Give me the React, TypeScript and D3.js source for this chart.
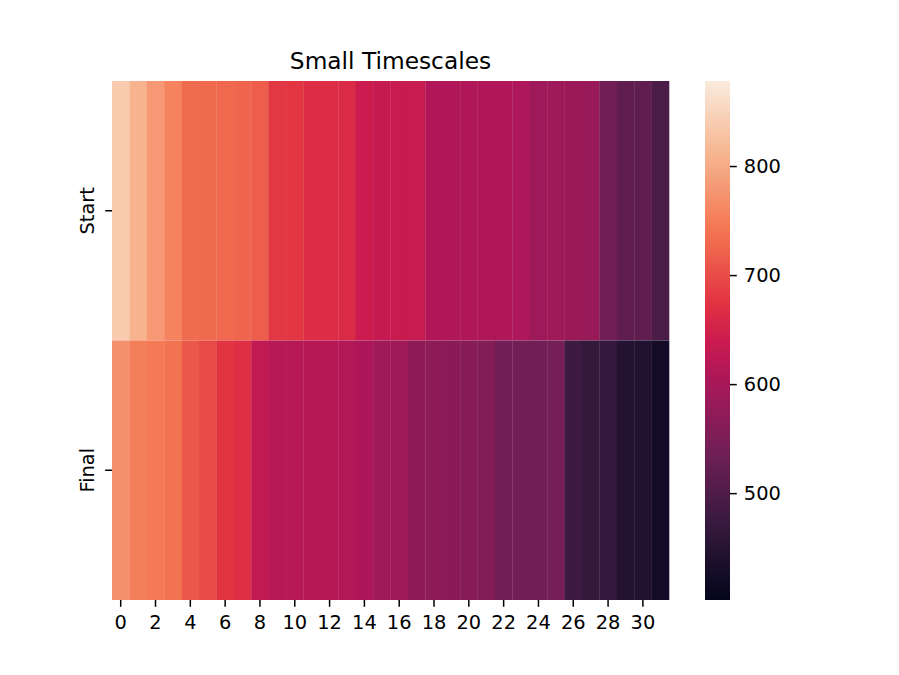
import * as d3 from 'd3';
import React, { useEffect, useRef } from 'react';

// columns 0..31, two rows
const columns: number[] = d3.range(32);
const rows: string[] = ['Start', 'Final'];

const startValues: number[] = [
  837, 809, 779, 756, 732, 730, 729, 725, 717, 679, 678, 666, 666, 661, 641, 633,
  637, 637, 610, 609, 609, 608, 608, 607, 589, 588, 587, 583, 541, 520, 519, 494,
];
const finalValues: number[] = [
  772, 752, 746, 739, 712, 697, 675, 670, 628, 617, 617, 616, 616, 612, 606, 592,
  591, 571, 570, 568, 565, 558, 541, 541, 540, 542, 478, 469, 468, 445, 443, 425,
];

const colorTicks: number[] = [500, 600, 700, 800];
const colorDomain: [number, number] = [402, 878];

// rocket-ish colour stops (position, colour)
const rocketPos: number[] = [0, 1 / 7, 2 / 7, 3 / 7, 0.5, 4 / 7, 5 / 7, 6 / 7, 1];
const rocketCol: string[] = [
  '#03051a', '#35193e', '#701f57', '#ad1759', '#cb1b4f', '#e13342', '#f37651', '#f6b48f', '#faebdd',
];

const font = 'DejaVu Sans, sans-serif';
const tickFont = 19.4;
const tickLen = 6.8;
const tickW = 1.5;

function drawChart(el: SVGSVGElement) {
  const width = 899;
  const height = 675;
  const left = 112, right = 669, top = 81, bottom = 600;

  const svg = d3.select(el);
  svg.selectAll('*').remove();
  svg.attr('width', width).attr('height', height).style('background', 'white');

  const rocket = d3.scaleLinear<string>()
    .domain(rocketPos)
    .range(rocketCol)
    .interpolate(d3.interpolateRgb);
  const norm = d3.scaleLinear().domain(colorDomain).range([0, 1]).clamp(true);
  const color = (v: number) => rocket(norm(v));

  const x = d3.scaleBand<number>().domain(columns).range([left, right]);
  const y = d3.scaleBand<string>().domain(rows).range([top, bottom]);

  const cells: { row: string; col: number; value: number }[] = [];
  columns.forEach((c, i) => {
    cells.push({ row: 'Start', col: c, value: startValues[i] });
    cells.push({ row: 'Final', col: c, value: finalValues[i] });
  });

  svg.append('g')
    .selectAll('rect')
    .data(cells)
    .join('rect')
    .attr('x', d => x(d.col)!)
    .attr('y', d => y(d.row)!)
    .attr('width', x.bandwidth() + 0.3)
    .attr('height', y.bandwidth())
    .attr('fill', d => color(d.value));

  // x axis
  const xAxis = d3.axisBottom(x)
    .tickValues(columns.filter(c => c % 2 === 0))
    .tickSize(tickLen)
    .tickPadding(8);
  const gx = svg.append('g')
    .attr('transform', `translate(0,${bottom})`)
    .call(xAxis);
  gx.select('.domain').remove();
  gx.selectAll('line').attr('stroke', '#000').attr('stroke-width', tickW);
  gx.selectAll('text').attr('font-family', font).attr('font-size', tickFont).attr('fill', '#000');

  // y axis
  const yAxis = d3.axisLeft(y).tickSize(tickLen).tickFormat(() => '');
  const gy = svg.append('g')
    .attr('transform', `translate(${left},0)`)
    .call(yAxis);
  gy.select('.domain').remove();
  gy.selectAll('line').attr('stroke', '#000').attr('stroke-width', tickW);

  svg.append('g')
    .selectAll('text')
    .data(rows)
    .join('text')
    .attr('transform', d => `translate(${left - 18},${y(d)! + y.bandwidth() / 2}) rotate(-90)`)
    .attr('text-anchor', 'middle')
    .attr('font-family', font)
    .attr('font-size', tickFont)
    .text(d => d);

  // title
  svg.append('text')
    .attr('x', (left + right) / 2)
    .attr('y', 69)
    .attr('text-anchor', 'middle')
    .attr('font-family', font)
    .attr('font-size', 23.3)
    .text('Small Timescales');

  // colorbar
  const cbLeft = 705, cbWidth = 25;
  const grad = svg.append('defs').append('linearGradient')
    .attr('id', 'cbar')
    .attr('x1', 0).attr('y1', 1).attr('x2', 0).attr('y2', 0);
  d3.range(0, 1.0001, 0.02).forEach(t => {
    grad.append('stop').attr('offset', t).attr('stop-color', rocket(t));
  });
  svg.append('rect')
    .attr('x', cbLeft)
    .attr('y', top)
    .attr('width', cbWidth)
    .attr('height', bottom - top)
    .attr('fill', 'url(#cbar)');

  const cScale = d3.scaleLinear().domain(colorDomain).range([bottom, top]);
  const cAxis = d3.axisRight(cScale).tickValues(colorTicks).tickSize(tickLen).tickPadding(7);
  const gc = svg.append('g')
    .attr('transform', `translate(${cbLeft + cbWidth},0)`)
    .call(cAxis);
  gc.select('.domain').remove();
  gc.selectAll('line').attr('stroke', '#000').attr('stroke-width', tickW);
  gc.selectAll('text').attr('font-family', font).attr('font-size', tickFont).attr('fill', '#000');
}

function App() {
  const ref = useRef<SVGSVGElement>(null);
  useEffect(() => {
    if (ref.current) drawChart(ref.current);
  });
  return (
    <svg ref={ref} style={{ position: 'absolute', left: 0, top: 0, display: 'block' }}></svg>
  );
}

export default App;
